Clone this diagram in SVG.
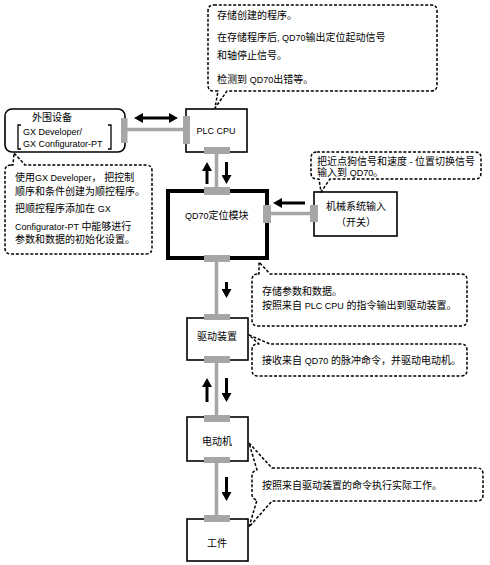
<svg xmlns="http://www.w3.org/2000/svg" width="490" height="565" viewBox="0 0 490 565">
<defs>
<marker id="ah" markerWidth="9" markerHeight="10" refX="0" refY="5" orient="auto-start-reverse" markerUnits="userSpaceOnUse"><path d="M0,0 L9,5 L0,10 Z" fill="#000"/></marker>
</defs>
<style>
text{font-family:"Liberation Sans","Noto Sans CJK SC",sans-serif;font-size:10px;fill:#000}
.l{font-size:9px}
.box{fill:#fff;stroke:#000;stroke-width:1.6}
.thick{fill:#fff;stroke:#000;stroke-width:4}
.pad{fill:#a6a6a6}
.wire{stroke:#a6a6a6;stroke-width:3.5;fill:none}
.arr{stroke:#000;stroke-width:3;fill:none;marker-end:url(#ah)}
.call{fill:#fff;stroke:#000;stroke-width:1.5;stroke-dasharray:3 1.8;stroke-linejoin:round}
.br{fill:none;stroke:#000;stroke-width:1.3}
</style>
<rect width="490" height="565" fill="#fff"/>

<g id="connectors">
<line class="wire" x1="127" y1="129.5" x2="183" y2="129.5"/>
<line class="wire" x1="271" y1="213.5" x2="310" y2="213.5"/>
<line class="wire" x1="216.5" y1="154" x2="216.5" y2="187"/>
<line class="wire" x1="216.5" y1="262" x2="216.5" y2="314"/>
<line class="wire" x1="216.5" y1="363" x2="216.5" y2="415"/>
<line class="wire" x1="216.5" y1="463" x2="216.5" y2="515"/>
<line class="arr" x1="143" y1="118" x2="169" y2="118" style="marker-start:url(#ah)"/>
<line class="arr" x1="207" y1="184" x2="207" y2="171"/>
<line class="arr" x1="226.5" y1="162" x2="226.5" y2="175"/>
<line class="arr" x1="305" y1="203" x2="282" y2="203"/>
<line class="arr" x1="226.5" y1="282" x2="226.5" y2="289"/>
<line class="arr" x1="207" y1="402" x2="207" y2="387"/>
<line class="arr" x1="226.5" y1="378" x2="226.5" y2="393"/>
<line class="arr" x1="226.5" y1="477" x2="226.5" y2="492"/>
</g>

<g id="peripheral">
<rect class="box" x="5" y="109" width="120" height="43" rx="7"/>
<rect class="pad" x="121" y="118" width="6.5" height="25"/>
<path class="br" d="M21,125 H18 V149 H21 M108,125 H111 V149 H108"/>
<text x="32" y="120.6">外围设备</text>
<text class="l" x="23" y="134.5">GX Developer/</text>
<text class="l" x="23" y="146.5">GX Configurator-PT</text>
</g>

<g id="plc">
<rect class="box" x="186" y="109" width="61" height="43"/>
<rect class="pad" x="183" y="116" width="7" height="28"/>
<rect class="pad" x="204" y="147" width="26" height="7"/>
<text class="l" x="216" y="133.5" text-anchor="middle">PLC CPU</text>
</g>

<g id="qd70">
<rect class="thick" x="168" y="191" width="99" height="67"/>
<rect class="pad" x="204" y="187" width="26" height="8"/>
<rect class="pad" x="263" y="205" width="8" height="18"/>
<rect class="pad" x="204" y="255" width="26" height="7"/>
<text x="185" y="218.6"><tspan class="l">QD70</tspan>定位模块</text>
</g>

<g id="mech">
<rect class="box" x="314" y="192" width="83" height="44"/>
<rect class="pad" x="310" y="205" width="8" height="17"/>
<text x="356" y="209.5" text-anchor="middle" font-size="9.5">机械系统输入</text>
<text x="356" y="225.5" text-anchor="middle" font-size="9.5">（开关）</text>
</g>

<g id="drive">
<rect class="box" x="187" y="318" width="61" height="42"/>
<rect class="pad" x="204" y="314" width="26" height="6"/>
<rect class="pad" x="204" y="356" width="26" height="7"/>
<text x="217" y="339.6" text-anchor="middle">驱动装置</text>
</g>

<g id="motor">
<rect class="box" x="187" y="417" width="61" height="44"/>
<rect class="pad" x="204" y="415" width="26" height="7"/>
<rect class="pad" x="204" y="457" width="26" height="6"/>
<text x="217" y="444.6" text-anchor="middle">电动机</text>
</g>

<g id="work">
<rect class="box" x="187" y="519" width="61" height="42"/>
<rect class="pad" x="204" y="515" width="26" height="7"/>
<text x="217" y="546.6" text-anchor="middle">工件</text>
</g>

<g id="note-plc">
<path class="call" d="M214,5 H431 Q437,5 437,11 V85 Q437,91 431,91 H227 L215,108 L218,91 H214 Q208,91 208,85 V11 Q208,5 214,5 Z"/>
<text x="217" y="18.6">存储创建的程序。</text>
<text x="217" y="40.6">在存储程序后<tspan class="l">, QD70</tspan>输出定位起动信号</text>
<text x="217" y="58.6">和轴停止信号。</text>
<text x="217" y="82.6">检测到 <tspan class="l">QD70</tspan>出错等。</text>
</g>

<g id="note-gx">
<path class="call" d="M11,165 H13 L14,153 L25,165 H146 Q152,165 152,171 V248 Q152,254 146,254 H11 Q5,254 5,248 V171 Q5,165 11,165 Z"/>
<text x="15" y="180.6" font-size="9.5">使用<tspan class="l">GX Developer</tspan>， 把控制</text>
<text x="15" y="194.6" font-size="9.5">顺序和条件创建为顺控程序。</text>
<text x="15" y="211.6" font-size="9.5">把顺控程序添加在 <tspan class="l"> GX</tspan></text>
<text x="15" y="229.6" font-size="9.5"><tspan class="l">Configurator-PT </tspan> 中能够进行</text>
<text x="15" y="242.6" font-size="9.5">参数和数据的初始化设置。</text>
</g>

<g id="note-mech">
<path class="call" d="M317,152 H475 Q481,152 481,158 V173 Q481,179 475,179 H330 L321,192 L319,179 H317 Q311,179 311,173 V158 Q311,152 317,152 Z"/>
<text x="317" y="164.6">把近点狗信号和速度<tspan class="l"> - </tspan>位置切换信号</text>
<text x="317" y="175.6">输入到 <tspan class="l">QD70</tspan>。</text>
</g>

<g id="note-qd70">
<path class="call" d="M258,274 H259 L259,262 L270,274 H461 Q467,274 467,280 V320 Q467,326 461,326 H258 Q252,326 252,320 V280 Q252,274 258,274 Z"/>
<text x="262" y="294.6">存储参数和数据。</text>
<text x="262" y="308.6">按照来自 <tspan class="l">PLC CPU</tspan> 的指令输出到驱动装置。</text>
</g>

<g id="note-drive">
<path class="call" d="M258,344 H259 L249,335 L270,344 H461 Q467,344 467,350 V370 Q467,376 461,376 H258 Q252,376 252,370 V350 Q252,344 258,344 Z"/>
<text x="262" y="363.6">接收来自 <tspan class="l">QD70</tspan> 的脉冲命令，并驱动电动机。</text>
</g>

<g id="note-motor">
<path class="call" d="M272,468 H477 Q483,468 483,474 V495 Q483,501 477,501 H272 L249,527 L257,500 Q252,499 252,494 V476 Q252,471 257,470 L249,443 Z"/>
<text x="262" y="488.6">按照来自驱动装置的命令执行实际工作。</text>
</g>
</svg>
